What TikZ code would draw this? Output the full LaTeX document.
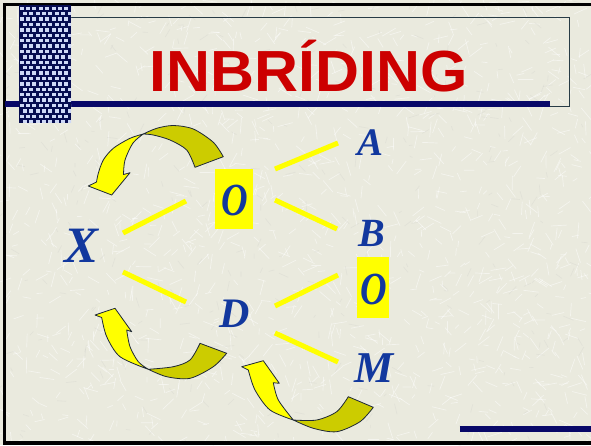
\documentclass[tikz,border=0pt]{standalone}
\usepackage{fontspec}
\setmainfont{Liberation Serif}
\newfontfamily\titlefont{Liberation Sans}

\definecolor{paper}{RGB}{234,234,222}
\definecolor{navybar}{RGB}{8,8,104}
\definecolor{checkdark}{RGB}{6,12,80}
\definecolor{checklight}{RGB}{206,216,246}
\definecolor{framegray}{RGB}{40,60,70}
\definecolor{titlered}{RGB}{204,0,0}
\definecolor{letterblue}{RGB}{18,56,158}
\definecolor{linkyellow}{RGB}{255,255,0}
\definecolor{arrowfront}{RGB}{255,255,0}
\definecolor{arrowback}{RGB}{204,204,0}
\definecolor{arrowedge}{RGB}{30,40,55}

\newcommand\letterfont[1]{\fontsize{#1}{#1}\selectfont\bfseries\itshape}

\tikzset{
  link/.style={draw=linkyellow,line width=5pt},
  lbl/.style={inner sep=0pt,text=letterblue},
  obox/.style={fill=linkyellow},
  frontpart/.style={fill=arrowfront,draw=arrowedge,line width=.8pt,line join=round},
  backpart/.style={fill=arrowback,draw=arrowedge,line width=.8pt,line join=round},
}

\begin{document}
\begin{tikzpicture}[x=1pt,y=-1pt]
\useasboundingbox (0,0) rectangle (591,445);

% paper background with a fine straw texture
\fill[paper] (0,0) rectangle (591,445);
\begin{scope}
  \clip (0,0) rectangle (591,445);
  \pgfmathsetseed{4711}
  \foreach \i in {1,...,1400}{
    \pgfmathsetmacro\px{rnd*591}
    \pgfmathsetmacro\py{rnd*445}
    \pgfmathsetmacro\ang{rnd*360}
    \pgfmathsetmacro\len{5+rnd*11}
    \draw[white,opacity=.5,line width=.7pt] (\px,\py) -- ++(\ang:\len);
  }
  \foreach \i in {1,...,300}{
    \pgfmathsetmacro\px{rnd*591}
    \pgfmathsetmacro\py{rnd*445}
    \pgfmathsetmacro\ang{rnd*360}
    \pgfmathsetmacro\len{3+rnd*8}
    \draw[black!25,opacity=.2,line width=.6pt] (\px,\py) -- ++(\ang:\len);
  }
\end{scope}

% slide border (top, left, bottom)
\fill[black] (3,2.5) rectangle (591,5.5);
\fill[black] (3,2.5) rectangle (6,445);
\fill[black] (3,441) rectangle (591,445);

% title frame and rule
\draw[framegray,line width=1pt] (60,17.5) rectangle (569,106);
\fill[navybar] (5,101) rectangle (550,107);
\fill[navybar] (460,426) rectangle (591,432);

% checkered column
\fill[checkdark] (19,5) rectangle (71,123);
\begin{scope}
  \clip (19,5) rectangle (71,123);
  \foreach \r in {0,...,21}{
    \foreach \c in {0,...,8}{
      \pgfmathsetmacro\xx{19.5+\c*6.4+mod(\r,2)*3.2}
      \pgfmathsetmacro\yy{6.5+\r*5.4}
      \fill[checklight] (\xx,\yy) rectangle ++(4,3.4);
    }
  }
\end{scope}

% title
\node[font=\titlefont\bfseries\fontsize{58}{58}\selectfont,text=titlered,
      anchor=base,inner sep=0pt,xscale=1.05] (title) at (309,91) {INBRÍDING};

% highlight boxes behind the two O letters
\fill[obox] (215,169) rectangle (253,229);
\fill[obox] (357,257) rectangle (389,318);

% letters of the pedigree
\node[lbl,font=\letterfont{51}] (X) at (82,246) {X};
\node[lbl,font=\letterfont{42}] (D) at (235,314) {D};
\node[lbl,font=\letterfont{39}] (A) at (371,143) {A};
\node[lbl,font=\letterfont{40}] (B) at (372,233) {B};
\node[lbl,font=\letterfont{44}] (M) at (374,368) {M};
\node[lbl,font=\letterfont{46},xscale=.8] (O1) at (235,200) {O};
\node[lbl,font=\letterfont{46},xscale=.8] (O2) at (374,289) {O};

% link end points
\coordinate (xo1) at (123,233); \coordinate (xo2) at (186,201);
\coordinate (xd1) at (123,272); \coordinate (xd2) at (186,302);
\coordinate (oa1) at (275,169); \coordinate (oa2) at (338,143);
\coordinate (ob1) at (275,200); \coordinate (ob2) at (337,229);
\coordinate (do1) at (275,306); \coordinate (do2) at (338,275);
\coordinate (dm1) at (275,333); \coordinate (dm2) at (338,362);

% pedigree links
\draw[link] (xo1) -- (xo2);
\draw[link] (xd1) -- (xd2);
\draw[link] (oa1) -- (oa2);
\draw[link] (ob1) -- (ob2);
\draw[link] (do1) -- (do2);
\draw[link] (dm1) -- (dm2);

% curved arrow, upper left
\path[backpart] (143.3,134)
  -- plot[smooth] coordinates {(143.3,134)(156.7,128.3)(173.3,125.5)(193.3,129)(213.3,142.3)(223.3,156.7)}
  -- (195,167.3)
  -- plot[smooth] coordinates {(195,167.3)(186.7,150)(170,140)(153.3,135)(143.3,134)} -- cycle;
\path[frontpart] (143.3,134)
  -- plot[smooth] coordinates {(143.3,134)(130,138.3)(113.3,148.3)(103.3,160)(98.3,173.3)(96.5,182)}
  -- (88.3,186) -- (111.7,195) -- (130,172.7) -- (123.5,174.5)
  -- plot[smooth] coordinates {(123.5,174.5)(125,160)(133,143)(143.3,134)} -- cycle;

% curved arrow, lower left
\path[backpart] (148.3,369.3)
  -- plot[smooth] coordinates {(148.3,369.3)(166.7,376.7)(190,378.3)(213.3,366.7)(226.7,353.3)}
  -- (200,343.3)
  -- plot[smooth] coordinates {(200,343.3)(190,360)(173.3,366.7)(148.3,369.3)} -- cycle;
\path[frontpart] (148.3,369.3)
  -- plot[smooth] coordinates {(148.3,369.3)(120,356.7)(106.7,336.7)(101.7,317.5)}
  -- (95,315) -- (115,308.3) -- (131.7,331.7) -- (126.7,330)
  -- plot[smooth] coordinates {(126.7,330)(130,346.7)(138.3,361.7)(148.3,369.3)} -- cycle;

% curved arrow, bottom
\path[backpart] (293.3,420)
  -- plot[smooth] coordinates {(293.3,420)(313.3,428.3)(336.7,431.7)(360,421.7)(373.3,407.3)}
  -- (348.3,396.7)
  -- plot[smooth] coordinates {(348.3,396.7)(336.7,411.7)(316.7,420)(293.3,420)} -- cycle;
\path[frontpart] (293.3,420)
  -- plot[smooth] coordinates {(293.3,420)(270,410)(255,390)(248.3,370)}
  -- (241.7,366.7) -- (263.3,360.7) -- (279.3,383.3) -- (273.3,382.7)
  -- plot[smooth] coordinates {(273.3,382.7)(278.3,400)(293.3,420)} -- cycle;

\end{tikzpicture}
\end{document}
